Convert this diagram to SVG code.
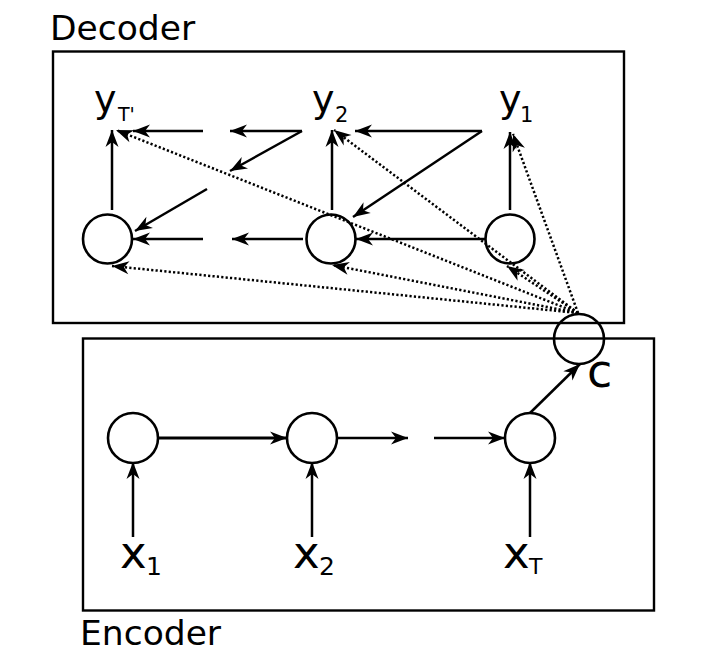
<svg xmlns="http://www.w3.org/2000/svg" width="717" height="666" viewBox="0 0 717 666">
<style>
  .box{fill:none;stroke:#000;stroke-width:2.4}
  .node{fill:none;stroke:#000;stroke-width:2.6}
  .lbl{font-family:"DejaVu Sans","Liberation Sans",sans-serif;fill:#000}
  .ln{stroke:#000;stroke-width:2.5;fill:none;marker-end:url(#ah)}
  .dot{stroke:#000;stroke-width:2.5;fill:none;stroke-dasharray:2.2 2.2;marker-end:url(#ah)}
</style>
<defs>
  <marker id="ah" markerUnits="userSpaceOnUse" markerWidth="22" markerHeight="18" viewBox="-18 -9 22 18" refX="0" refY="0" orient="auto" overflow="visible">
    <path d="M0,0 L-17,-6.5 L-12,0 L-17,6.5 Z" fill="#000"/>
  </marker>
</defs>
<rect fill="#fff" x="0" y="0" width="717" height="666"/>
<g id="decoder">
  <rect class="box" x="53" y="51.5" width="571" height="271.5"/>
  <text class="lbl" x="50" y="40" font-size="34.5">Decoder</text>
</g>
<g id="encoder">
  <rect class="box" x="83" y="338.5" width="571" height="272"/>
  <text class="lbl" x="80" y="645" font-size="34.5">Encoder</text>
</g>
<g id="yT">
  <text class="lbl" x="94" y="112" font-size="38">y</text>
  <text class="lbl" x="118" y="121" font-size="19">T'</text>
</g>
<g id="y2">
  <text class="lbl" x="312" y="112" font-size="38">y</text>
  <text class="lbl" x="335" y="122" font-size="21">2</text>
</g>
<g id="y1">
  <text class="lbl" x="499" y="112" font-size="38">y</text>
  <text class="lbl" x="520" y="122" font-size="21">1</text>
</g>
<g id="d1"><circle class="node" cx="107.5" cy="239" r="24.5"/></g>
<g id="d2"><circle class="node" cx="331" cy="239" r="24.5"/></g>
<g id="d3"><circle class="node" cx="510" cy="239" r="24.5"/></g>
<g id="c">
  <circle class="node" cx="579" cy="339" r="25"/>
  <text class="lbl" x="587" y="387" font-size="46">c</text>
</g>
<g id="e1"><circle class="node" cx="133" cy="438" r="25"/></g>
<g id="e2"><circle class="node" cx="312" cy="438" r="25"/></g>
<g id="e3"><circle class="node" cx="530" cy="438" r="25"/></g>
<g id="x1">
  <text class="lbl" x="120" y="568" font-size="45">x</text>
  <text class="lbl" x="146" y="575" font-size="25">1</text>
</g>
<g id="x2">
  <text class="lbl" x="293" y="568" font-size="45">x</text>
  <text class="lbl" x="319" y="575" font-size="25">2</text>
</g>
<g id="xT">
  <text class="lbl" x="503" y="568" font-size="45">x</text>
  <text class="lbl" x="529" y="574" font-size="22">T</text>
</g>
<g id="connectors">
  <line class="ln" x1="112" y1="210" x2="112" y2="130"/>
  <line class="ln" x1="332" y1="210" x2="332" y2="130"/>
  <line class="ln" x1="510" y1="210" x2="510" y2="132"/>
  <line class="ln" x1="203" y1="131" x2="133" y2="131"/>
  <line class="ln" x1="302" y1="131" x2="230" y2="131"/>
  <line class="ln" x1="302" y1="131" x2="230" y2="171"/>
  <line class="ln" x1="207" y1="189" x2="135" y2="231"/>
  <line class="ln" x1="203" y1="239" x2="133" y2="239"/>
  <line class="ln" x1="303" y1="239" x2="232" y2="239"/>
  <line class="ln" x1="482" y1="131" x2="355" y2="131"/>
  <line class="ln" x1="482" y1="131" x2="353" y2="217"/>
  <line class="ln" x1="485" y1="239" x2="356" y2="239"/>
  <line class="dot" x1="578" y1="313" x2="116" y2="130"/>
  <line class="dot" x1="578" y1="313" x2="112" y2="266"/>
  <line class="dot" x1="578" y1="313" x2="334" y2="130"/>
  <line class="dot" x1="578" y1="313" x2="332" y2="265"/>
  <line class="dot" x1="578" y1="313" x2="513" y2="134"/>
  <line class="dot" x1="578" y1="313" x2="507" y2="266"/>
  <line class="ln" x1="133" y1="537" x2="133" y2="462"/>
  <line class="ln" x1="312" y1="537" x2="312" y2="462"/>
  <line class="ln" x1="530" y1="537" x2="530" y2="462"/>
  <line class="ln" x1="158" y1="438" x2="287" y2="438" style="stroke-width:3.2"/>
  <line class="ln" x1="337" y1="438" x2="408" y2="438"/>
  <line class="ln" x1="434" y1="438" x2="505" y2="438"/>
  <line class="ln" x1="530" y1="413" x2="580" y2="364"/>
</g>
</svg>
